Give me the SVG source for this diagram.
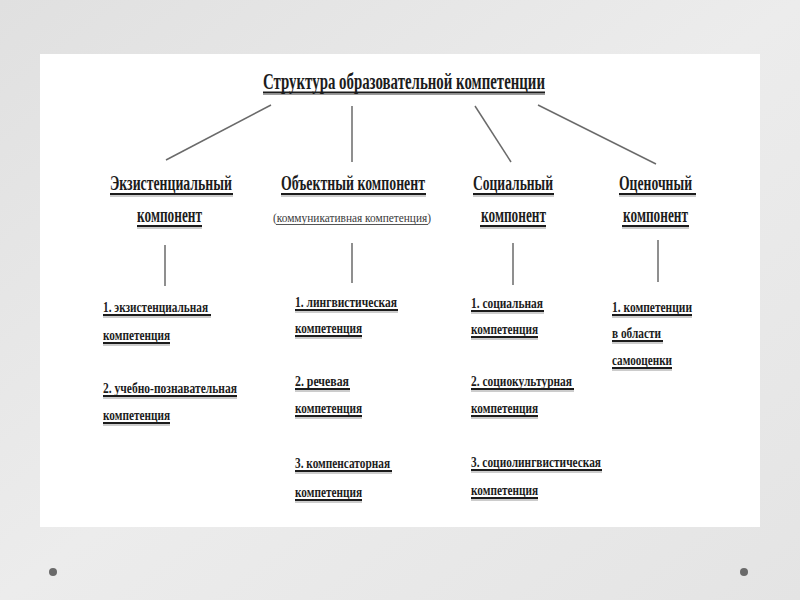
<svg xmlns="http://www.w3.org/2000/svg" width="800" height="600" viewBox="0 0 800 600">
<defs>
<linearGradient id="bg" x1="0" y1="0" x2="1" y2="1">
<stop offset="0" stop-color="#e0e0e0"/>
<stop offset="0.5" stop-color="#ececec"/>
<stop offset="1" stop-color="#e4e4e4"/>
</linearGradient>
</defs>
<style>
.t{font-family:"Liberation Serif","Times New Roman",serif;font-weight:bold;fill:#1c1c1c}
.h{font-size:23px}
.c{font-size:20px}
.i{font-size:15.5px}
.s{font-family:"Liberation Serif","Times New Roman",serif;font-size:13px;fill:#3a3a3a}
.u{stroke:#1c1c1c;stroke-width:2}
.us{stroke:#9a9a9a;stroke-width:1}
.ut{stroke:#555;stroke-width:1}
.ln{stroke:#6a6a6a;stroke-width:1.5;fill:none}
</style>
<rect x="0" y="0" width="800" height="600" fill="url(#bg)"/>
<rect x="40" y="54" width="720" height="473" fill="#ffffff"/>
<circle cx="53" cy="572" r="4" fill="#6a6a6a"/>
<circle cx="744" cy="572" r="4" fill="#6a6a6a"/>

<g id="connectors">
<line class="ln" x1="271" y1="105" x2="166" y2="160"/>
<line class="ln" x1="352" y1="106" x2="352" y2="162"/>
<line class="ln" x1="475" y1="106" x2="511" y2="162"/>
<line class="ln" x1="538" y1="105" x2="656" y2="164"/>
<line class="ln" x1="165" y1="245" x2="165" y2="286"/>
<line class="ln" x1="352" y1="243" x2="352" y2="283"/>
<line class="ln" x1="513" y1="243" x2="513" y2="285"/>
<line class="ln" x1="658" y1="240" x2="658" y2="282"/>
</g>

<g id="title">
<text class="t h" x="263" y="89" textLength="282" lengthAdjust="spacingAndGlyphs">Структура образовательной компетенции</text>
<line class="u" x1="263" y1="92.5" x2="545" y2="92.5"/>
<line class="us" x1="263" y1="94.5" x2="545" y2="94.5"/>
</g>

<g id="node-existential">
<text class="t c" x="110" y="190" textLength="122" lengthAdjust="spacingAndGlyphs">Экзистенциальный</text>
<line class="u" x1="110" y1="194" x2="233" y2="194"/>
<line class="us" x1="110" y1="196" x2="233" y2="196"/>
<text class="t c" x="137" y="222" textLength="65" lengthAdjust="spacingAndGlyphs">компонент</text>
<line class="u" x1="137" y1="226" x2="202" y2="226"/>
<line class="us" x1="137" y1="228" x2="202" y2="228"/>
</g>

<g id="node-object">
<text class="t c" transform="translate(281,190) scale(0.74,1)" x="0" y="0" textLength="194.6" lengthAdjust="spacingAndGlyphs">Объектный компонент</text>
<line class="u" x1="281" y1="194" x2="426" y2="194"/>
<line class="us" x1="281" y1="196" x2="426" y2="196"/>
<text class="s" x="273" y="222" textLength="158" lengthAdjust="spacingAndGlyphs">(коммуникативная компетенция)</text>
<line class="ut" x1="276" y1="224.5" x2="428" y2="224.5"/>
</g>

<g id="node-social">
<text class="t c" x="473" y="190" textLength="80" lengthAdjust="spacingAndGlyphs">Социальный</text>
<line class="u" x1="473" y1="194" x2="554" y2="194"/>
<line class="us" x1="473" y1="196" x2="554" y2="196"/>
<text class="t c" x="481" y="222" textLength="65" lengthAdjust="spacingAndGlyphs">компонент</text>
<line class="u" x1="480" y1="226" x2="546" y2="226"/>
<line class="us" x1="480" y1="228" x2="546" y2="228"/>
</g>

<g id="node-evaluative">
<text class="t c" x="619" y="190" textLength="73" lengthAdjust="spacingAndGlyphs">Оценочный</text>
<line class="u" x1="619" y1="194" x2="696" y2="194"/>
<line class="us" x1="619" y1="196" x2="696" y2="196"/>
<text class="t c" x="623" y="222" textLength="65" lengthAdjust="spacingAndGlyphs">компонент</text>
<line class="u" x1="622" y1="226" x2="689" y2="226"/>
<line class="us" x1="622" y1="228" x2="689" y2="228"/>
</g>

<g id="list-existential">
<text class="t i" x="103" y="312" textLength="105" lengthAdjust="spacingAndGlyphs">1. экзистенциальная</text>
<line class="u" x1="103" y1="315" x2="211" y2="315"/>
<line class="us" x1="103" y1="317" x2="211" y2="317"/>
<text class="t i" x="103" y="340" textLength="67" lengthAdjust="spacingAndGlyphs">компетенция</text>
<line class="u" x1="103" y1="343" x2="170" y2="343"/>
<line class="us" x1="103" y1="345" x2="170" y2="345"/>
<text class="t i" x="103" y="393" textLength="134" lengthAdjust="spacingAndGlyphs">2. учебно-познавательная</text>
<line class="u" x1="103" y1="396" x2="237" y2="396"/>
<line class="us" x1="103" y1="398" x2="237" y2="398"/>
<text class="t i" x="103" y="420" textLength="67" lengthAdjust="spacingAndGlyphs">компетенция</text>
<line class="u" x1="103" y1="423" x2="170" y2="423"/>
<line class="us" x1="103" y1="425" x2="170" y2="425"/>
</g>

<g id="list-object">
<text class="t i" x="295" y="307" textLength="102" lengthAdjust="spacingAndGlyphs">1. лингвистическая</text>
<line class="u" x1="295" y1="310" x2="398" y2="310"/>
<line class="us" x1="295" y1="312" x2="398" y2="312"/>
<text class="t i" x="295" y="333" textLength="67" lengthAdjust="spacingAndGlyphs">компетенция</text>
<line class="u" x1="295" y1="336" x2="362" y2="336"/>
<line class="us" x1="295" y1="338" x2="362" y2="338"/>
<text class="t i" x="295" y="386" textLength="54" lengthAdjust="spacingAndGlyphs">2. речевая</text>
<line class="u" x1="295" y1="389" x2="350" y2="389"/>
<line class="us" x1="295" y1="391" x2="350" y2="391"/>
<text class="t i" x="295" y="413" textLength="67" lengthAdjust="spacingAndGlyphs">компетенция</text>
<line class="u" x1="295" y1="416" x2="362" y2="416"/>
<line class="us" x1="295" y1="418" x2="362" y2="418"/>
<text class="t i" x="295" y="468" textLength="95" lengthAdjust="spacingAndGlyphs">3. компенсаторная</text>
<line class="u" x1="295" y1="471" x2="392" y2="471"/>
<line class="us" x1="295" y1="473" x2="392" y2="473"/>
<text class="t i" x="295" y="497" textLength="67" lengthAdjust="spacingAndGlyphs">компетенция</text>
<line class="u" x1="295" y1="500" x2="362" y2="500"/>
<line class="us" x1="295" y1="502" x2="362" y2="502"/>
</g>

<g id="list-social">
<text class="t i" x="471" y="308" textLength="72" lengthAdjust="spacingAndGlyphs">1. социальная</text>
<line class="u" x1="471" y1="311" x2="544" y2="311"/>
<line class="us" x1="471" y1="313" x2="544" y2="313"/>
<text class="t i" x="471" y="334" textLength="67" lengthAdjust="spacingAndGlyphs">компетенция</text>
<line class="u" x1="471" y1="337" x2="538" y2="337"/>
<line class="us" x1="471" y1="339" x2="538" y2="339"/>
<text class="t i" x="471" y="386" textLength="101" lengthAdjust="spacingAndGlyphs">2. социокультурная</text>
<line class="u" x1="471" y1="389" x2="574" y2="389"/>
<line class="us" x1="471" y1="391" x2="574" y2="391"/>
<text class="t i" x="471" y="413" textLength="67" lengthAdjust="spacingAndGlyphs">компетенция</text>
<line class="u" x1="471" y1="416" x2="538" y2="416"/>
<line class="us" x1="471" y1="418" x2="538" y2="418"/>
<text class="t i" x="471" y="467" textLength="130" lengthAdjust="spacingAndGlyphs">3. социолингвистическая</text>
<line class="u" x1="471" y1="470" x2="602" y2="470"/>
<line class="us" x1="471" y1="472" x2="602" y2="472"/>
<text class="t i" x="471" y="495" textLength="67" lengthAdjust="spacingAndGlyphs">компетенция</text>
<line class="u" x1="471" y1="498" x2="538" y2="498"/>
<line class="us" x1="471" y1="500" x2="538" y2="500"/>
</g>

<g id="list-evaluative">
<text class="t i" x="612" y="312" textLength="80" lengthAdjust="spacingAndGlyphs">1. компетенции</text>
<line class="u" x1="612" y1="315" x2="692" y2="315"/>
<line class="us" x1="612" y1="317" x2="692" y2="317"/>
<text class="t i" x="612" y="338" textLength="49" lengthAdjust="spacingAndGlyphs">в области</text>
<line class="u" x1="612" y1="341" x2="663" y2="341"/>
<line class="us" x1="612" y1="343" x2="663" y2="343"/>
<text class="t i" x="612" y="365" textLength="60" lengthAdjust="spacingAndGlyphs">самооценки</text>
<line class="u" x1="612" y1="368" x2="672" y2="368"/>
<line class="us" x1="612" y1="370" x2="672" y2="370"/>
</g>
</svg>
